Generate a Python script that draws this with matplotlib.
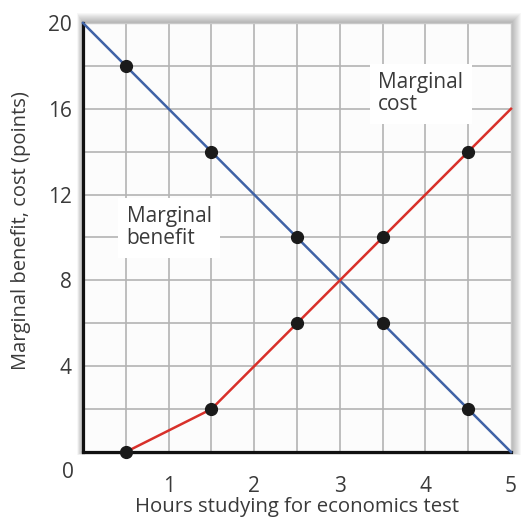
import matplotlib
matplotlib.use("Agg")
import matplotlib.pyplot as plt
from matplotlib.patches import Rectangle

hours = [0.5, 1.5, 2.5, 3.5, 4.5]
marginal_benefit = [18, 14, 10, 6, 2]
marginal_cost = [0, 2, 6, 10, 14]
mb_line_x = [0, 0.5, 1.5, 2.5, 3.5, 4.5, 5]
mb_line_y = [20, 18, 14, 10, 6, 2, 0]
mc_line_x = [0.5, 1.5, 2.5, 3.5, 4.5, 5]
mc_line_y = [0, 2, 6, 10, 14, 16]
x_ticks = [1, 2, 3, 4, 5]
y_ticks = [4, 8, 12, 16, 20]

plt.rcParams['font.family'] = ['Open Sans', 'DejaVu Sans']
FS = 15
TC = '#3a3a3a'

fig = plt.figure(figsize=(5.29, 5.19), dpi=100)
W, H = 529, 519
L, R, T, B = 83, 511, 23, 452

# soft shadow around frame
for i in range(10, 0, -1):
    d = i
    fig.patches.append(Rectangle(((L - d * 0.6) / W, 1 - (B + d * 0.3) / H),
                                 (R - L + d * 1.6) / W, (B - T + d * 1.3) / H,
                                 transform=fig.transFigure, facecolor='#000000',
                                 edgecolor='none', alpha=0.03, zorder=-5))

ax = fig.add_axes([L / W, 1 - B / H, (R - L) / W, (B - T) / H])
ax.set_zorder(2)
ax.set_xlim(0, 5)
ax.set_ylim(0, 20)
ax.set_facecolor('#fcfcfc')

for gx in [i * 0.5 for i in range(1, 10)]:
    ax.axvline(gx, color='#b3b3b3', lw=1.2, zorder=1)
for gy in range(2, 20, 2):
    ax.axhline(gy, color='#b3b3b3', lw=1.2, zorder=1)

for side in ['top', 'right']:
    ax.spines[side].set_color('#c8c8c8')
    ax.spines[side].set_linewidth(1.0)
for side in ['left', 'bottom']:
    ax.spines[side].set_color('#111111')
    ax.spines[side].set_linewidth(2.3)

ax.plot(mb_line_x, mb_line_y, color='#3f62a6', lw=1.8, zorder=3, clip_on=False)
ax.plot(mc_line_x, mc_line_y, color='#d8302a', lw=1.8, zorder=3, clip_on=False)
ax.plot(hours, marginal_benefit, 'o', color='#1a1a1a', ms=8.5, zorder=4, clip_on=False)
ax.plot(hours, marginal_cost, 'o', color='#1a1a1a', ms=8.5, zorder=4, clip_on=False)

ax.set_xticks(x_ticks)
ax.set_yticks(y_ticks)
ax.tick_params(length=0, labelsize=FS, colors=TC)
ax.tick_params(axis='x', pad=17)
ax.tick_params(axis='y', pad=8)
ax.text(-0.11, -0.45, '0', fontsize=FS, color=TC, ha='right', va='top')

bbox = dict(facecolor='white', edgecolor='none', pad=6)
ax.text(0.51, 10.45, 'Marginal\nbenefit', fontsize=FS, color=TC, ha='left', va='center',
        linespacing=1.05, bbox=bbox, zorder=2)
ax.text(3.45, 16.7, 'Marginal\ncost', fontsize=FS, color=TC, ha='left', va='center',
        linespacing=1.05, bbox=bbox, zorder=2)

fig.text(297 / W, 1 - 507 / H, 'Hours studying for economics test', fontsize=14.7, color=TC,
         ha='center', va='center')
fig.text(21 / W, 1 - 231 / H, 'Marginal benefit, cost (points)', fontsize=14.5, color=TC,
         ha='center', va='center', rotation=90)

fig.savefig('out.png', dpi=100)
